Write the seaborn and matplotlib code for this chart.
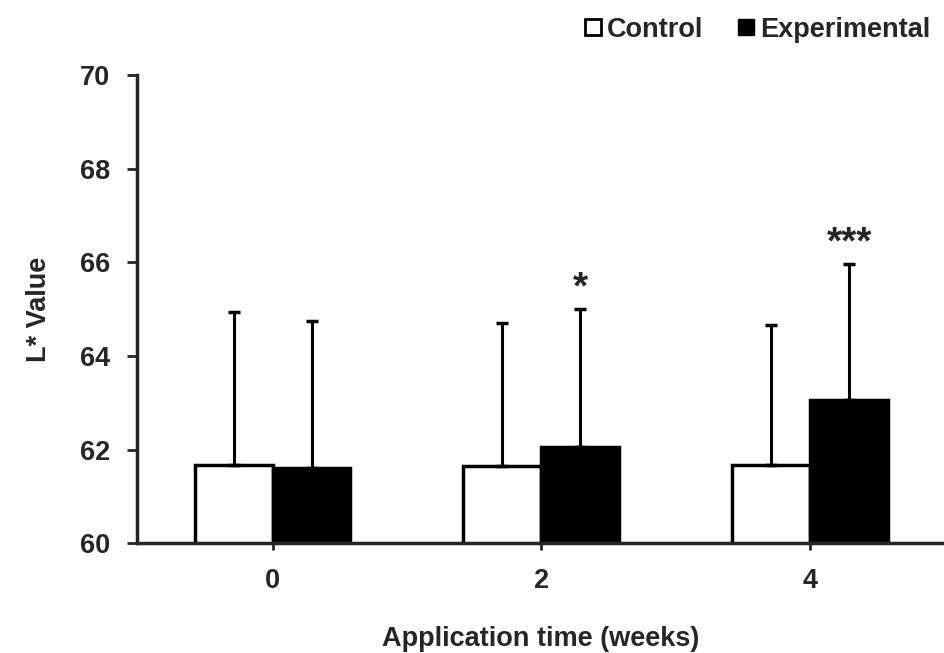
import matplotlib
matplotlib.use("Agg")
import matplotlib.pyplot as plt
import seaborn as sns
import pandas as pd
from matplotlib.lines import Line2D

weeks = ["0", "2", "4"]
groups = ["Control", "Experimental"]
control_mean = [61.67, 61.65, 61.67]
control_sd = [3.27, 3.05, 2.99]
exp_mean = [61.60, 62.06, 63.06]
exp_sd = [3.15, 2.94, 2.90]
stars = ["", "*", "***"]

df = pd.DataFrame({
    "week": weeks * 2,
    "group": ["Control"] * 3 + ["Experimental"] * 3,
    "value": control_mean + exp_mean,
    "sd": control_sd + exp_sd,
})

sns.set_style("ticks")
plt.rcParams["font.family"] = ["Liberation Sans", "DejaVu Sans"]
plt.rcParams["font.weight"] = "bold"

fig = plt.figure(figsize=(9.45, 6.53), dpi=100)
ax = fig.add_axes([0.1447, 0.168, 0.855, 0.717])

sns.barplot(data=df, x="week", y="value", hue="group", order=weeks, hue_order=groups,
            palette={"Control": "white", "Experimental": "black"}, edgecolor="black",
            linewidth=2.5, width=0.58, errorbar=None, ax=ax, legend=False)

# upward-only error bars
for patch, (_, row) in zip(ax.patches, df.iterrows()):
    cx = patch.get_x() + patch.get_width() / 2
    ax.errorbar(cx, row["value"], yerr=[[0], [row["sd"]]], fmt="none", ecolor="black",
                elinewidth=2.2, capsize=4, capthick=2.5)
    if row["group"] == "Experimental":
        s = stars[weeks.index(row["week"])]
        if s:
            ax.text(cx, row["value"] + row["sd"] + 0.05, s, ha="center", va="bottom",
                    fontsize=28, fontweight="bold")

ax.set_ylim(60, 70)
ax.set_xlim(-0.505, 2.5)
ax.set_yticks([60, 62, 64, 66, 68, 70])
ax.set_xticks([0, 1, 2])
ax.set_xticklabels(weeks)
ax.set_xlabel("Application time (weeks)", fontsize=19.5, fontweight="bold", labelpad=23)
ax.set_ylabel("L* Value", fontsize=19.5, fontweight="bold", labelpad=20)
ax.tick_params(axis="y", labelsize=19.5, width=2, length=7, direction="out", pad=12)
ax.tick_params(axis="x", labelsize=19.5, width=2, length=5, direction="out", pad=13)
for lab in ax.get_xticklabels() + ax.get_yticklabels():
    lab.set_fontweight("bold")
sns.despine(ax=ax)
for sp in ["left", "bottom"]:
    ax.spines[sp].set_linewidth(2.5)

handles = [Line2D([], [], marker="s", linestyle="none", markersize=11, markerfacecolor="white",
                  markeredgecolor="black", markeredgewidth=2),
           Line2D([], [], marker="s", linestyle="none", markersize=12, markerfacecolor="black",
                  markeredgecolor="black")]
fig.legend(handles, groups, loc="upper right", bbox_to_anchor=(1.01, 1.012), ncol=2, frameon=False,
           handlelength=0.8, handletextpad=0.1, columnspacing=1.2,
           prop={"weight": "bold", "size": 19.5})

fig.savefig("out.png", dpi=100)
